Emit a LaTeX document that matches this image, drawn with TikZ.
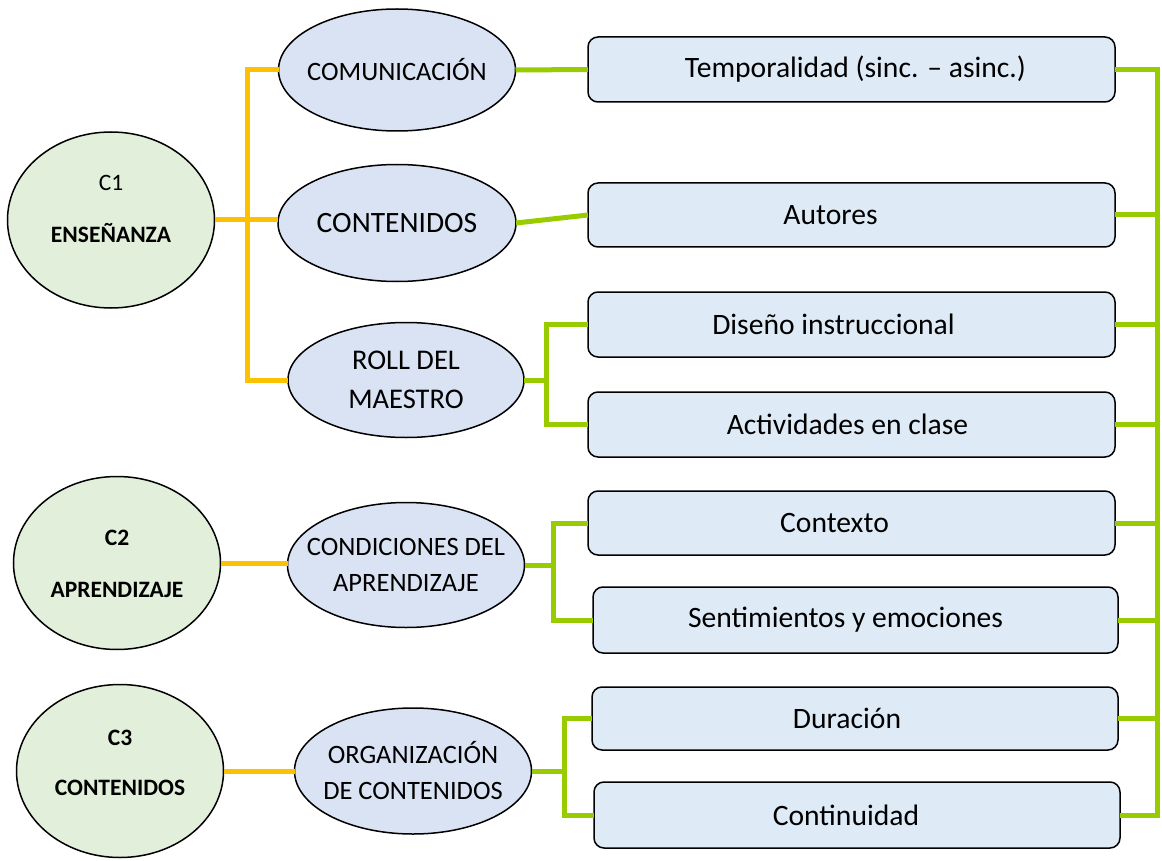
\documentclass[tikz,border=0pt]{standalone}
\usepackage{fontspec}
\setmainfont{Carlito}
\usetikzlibrary{shapes.geometric}
\definecolor{cgreen}{RGB}{226,239,218}
\definecolor{cblue}{RGB}{218,227,243}
\definecolor{rblue}{RGB}{222,235,247}
\definecolor{lorange}{RGB}{255,192,0}
\definecolor{lgreen}{RGB}{153,204,0}
\tikzset{
  cat/.style={ellipse,draw=black,line width=1.5pt,fill=cgreen,inner sep=0pt,outer sep=0pt},
  sub/.style={ellipse,draw=black,line width=1.5pt,fill=cblue,inner sep=0pt,outer sep=0pt},
  item/.style={rectangle,rounded corners=10pt,draw=black,line width=1.5pt,fill=rblue,inner sep=0pt,outer sep=0pt,font=\fontsize{29.6}{34}\selectfont},
  oline/.style={draw=lorange,line width=5pt},
  gline/.style={draw=lgreen,line width=5pt},
  ctext/.style={font=\fontsize{23.5}{28}\selectfont},
  stext/.style={font=\fontsize{26.5}{36}\selectfont,align=center},
}
\newcommand{\padL}[1]{\hspace*{#1pt}}
\begin{document}
\begin{tikzpicture}[x=1pt,y=-1pt]
\useasboundingbox (0,0) rectangle (1162,861);
% categories
\node[cat,minimum width=207pt,minimum height=176pt] (c1) at (111,220) {};
\node[ctext] (c1a) at (111,183) {C1};
\node[ctext] (c1b) at (111,233) {\bfseries ENSEÑANZA};
\node[cat,minimum width=207pt,minimum height=173pt] (c2) at (117,563) {};
\node[ctext] (c2a) at (117,538) {\bfseries C2};
\node[ctext] (c2b) at (117,590) {\bfseries APRENDIZAJE};
\node[cat,minimum width=207pt,minimum height=173pt] (c3) at (120,771) {};
\node[ctext] (c3a) at (120,738) {\bfseries C3};
\node[ctext] (c3b) at (120,788) {\bfseries CONTENIDOS};
% subcategories
\node[sub,minimum width=237pt,minimum height=122pt,label={[stext]center:COMUNICACIÓN}] (com) at (397,70) {};
\node[sub,minimum width=238pt,minimum height=117pt,label={[stext,font=\fontsize{29.5}{34}\selectfont]center:CONTENIDOS}] (cont) at (397,223) {};
\node[sub,minimum width=236pt,minimum height=115pt,label={[stext,font=\fontsize{28.5}{39}\selectfont]center:ROLL DEL\\MAESTRO}] (roll) at (406,380) {};
\node[sub,minimum width=237pt,minimum height=125pt,label={[stext]center:CONDICIONES DEL\\APRENDIZAJE}] (cond) at (406,565) {};
\node[sub,minimum width=237pt,minimum height=126pt,label={[stext]center:ORGANIZACIÓN\\DE CONTENIDOS}] (org) at (413,771) {};
% items
\node[item,minimum width=527pt,minimum height=65pt] (t1) at (851.5,69.5) {\padL{8}Temporalidad (sinc. – asinc.)};
\node[item,minimum width=527pt,minimum height=64pt] (t2) at (851.5,215) {Autores\padL{42}};
\node[item,minimum width=527pt,minimum height=65pt] (t3) at (851.5,324.5) {Diseño instruccional\padL{36}};
\node[item,minimum width=527pt,minimum height=65pt] (t4) at (851.5,424.5) {Actividades en clase\padL{8}};
\node[item,minimum width=527pt,minimum height=64pt] (t5) at (851.5,523) {Contexto\padL{34}};
\node[item,minimum width=525pt,minimum height=66pt] (t6) at (855.5,620) {Sentimientos y emociones\padL{20}};
\node[item,minimum width=526pt,minimum height=63pt] (t7) at (855,718.5) {Duración\padL{16}};
\node[item,minimum width=526pt,minimum height=66pt] (t8) at (857,815) {Continuidad\padL{22}};
% helper coordinates
\coordinate (ox) at (247,0);
\coordinate (g1) at (546,0);
\coordinate (g2) at (553,0);
\coordinate (g3) at (564,0);
\coordinate (bus) at (1157,0);
% orange connectors
\draw[oline] (com.west) -- (com.west -| ox) -- (roll.west -| ox) -- (roll.west);
\draw[oline] (c1.east) -- (c1.east -| cont.west);
\draw[oline] (c2.east) -- (c2.east -| cond.west);
\draw[oline] (c3.east) -- (c3.east -| org.west);
% green connectors
\draw[gline] (com.east) -- (t1.west);
\draw[gline] (cont.east) -- (t2.west);
\draw[gline] (t3.west) -- (t3.west -| g1) -- (t4.west -| g1) -- (t4.west);
\draw[gline] (roll.east) -- (roll.east -| g1);
\draw[gline] (t5.west) -- (t5.west -| g2) -- (t6.west -| g2) -- (t6.west);
\draw[gline] (cond.east) -- (cond.east -| g2);
\draw[gline] (t7.west) -- (t7.west -| g3) -- (t8.west -| g3) -- (t8.west);
\draw[gline] (org.east) -- (org.east -| g3);
% right bus
\draw[gline] (t1.east) -- (t1.east -| bus) -- (t8.east -| bus) -- (t8.east);
\foreach \n in {t2,t3,t4,t5,t6,t7}{
  \draw[gline] (\n.east) -- (\n.east -| bus);
}
\end{tikzpicture}
\end{document}
